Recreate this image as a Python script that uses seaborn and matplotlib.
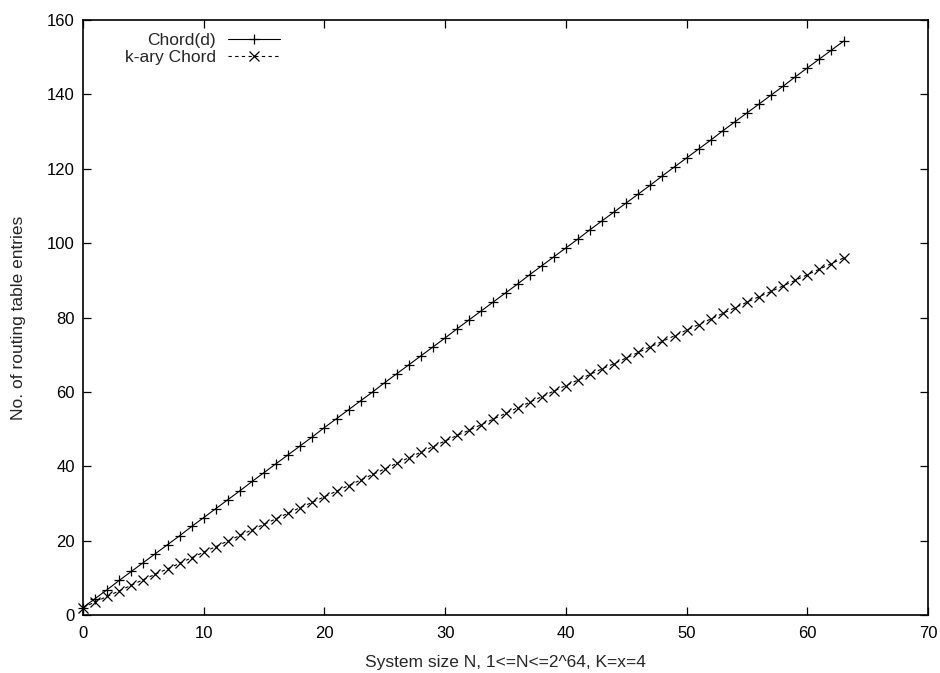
import matplotlib
matplotlib.use("Agg")
import matplotlib.pyplot as plt
import seaborn as sns
import pandas as pd

# values (x = 0..63)
system_size = list(range(64))
chord_d = [2.0, 4.4, 6.8, 9.3, 11.7, 14.1, 16.5, 18.9, 21.3, 23.8,
           26.2, 28.6, 31.0, 33.4, 35.9, 38.3, 40.7, 43.1, 45.5, 47.9,
           50.4, 52.8, 55.2, 57.6, 60.0, 62.5, 64.9, 67.3, 69.7, 72.1,
           74.5, 77.0, 79.4, 81.8, 84.2, 86.6, 89.0, 91.5, 93.9, 96.3,
           98.7, 101.1, 103.6, 106.0, 108.4, 110.8, 113.2, 115.6, 118.1, 120.5,
           122.9, 125.3, 127.7, 130.2, 132.6, 135.0, 137.4, 139.8, 142.2, 144.7,
           147.1, 149.5, 151.9, 154.3]
kary_chord = [2.0, 3.5, 5.0, 6.5, 8.0, 9.5, 11.0, 12.4, 13.9, 15.4,
              16.9, 18.4, 19.9, 21.4, 22.9, 24.4, 25.9, 27.4, 28.9, 30.3,
              31.8, 33.3, 34.8, 36.3, 37.8, 39.3, 40.8, 42.3, 43.8, 45.3,
              46.8, 48.3, 49.7, 51.2, 52.7, 54.2, 55.7, 57.2, 58.7, 60.2,
              61.7, 63.2, 64.7, 66.2, 67.6, 69.1, 70.6, 72.1, 73.6, 75.1,
              76.6, 78.1, 79.6, 81.1, 82.6, 84.1, 85.6, 87.0, 88.5, 90.0,
              91.5, 93.0, 94.5, 96.0]
x_ticks = [0, 10, 20, 30, 40, 50, 60, 70]
y_ticks = [0, 20, 40, 60, 80, 100, 120, 140, 160]

df = pd.DataFrame({"N": system_size, "Chord(d)": chord_d, "k-ary Chord": kary_chord})

sns.set_style("ticks")
plt.rcParams['font.family'] = ['Liberation Sans', 'DejaVu Sans']
plt.rcParams['xtick.direction'] = 'in'
plt.rcParams['ytick.direction'] = 'in'
plt.rcParams['xtick.top'] = True
plt.rcParams['ytick.right'] = True

fig = plt.figure(figsize=(9.4, 6.73), dpi=100)
ax = fig.add_axes([83 / 940, 58 / 673, 845 / 940, 595 / 673])

# Graphs
sns.lineplot(x='N', y='Chord(d)', data=df, ax=ax, color='black', linewidth=0.8,
             marker='+', markersize=7.5, markeredgewidth=0.9, markeredgecolor='black',
             label='Chord(d)', clip_on=False)
sns.lineplot(x='N', y='k-ary Chord', data=df, ax=ax, color='black', linewidth=0.8,
             linestyle=(0, (3, 3)), marker='x', markersize=6.5, markeredgewidth=0.9,
             markeredgecolor='black', label='k-ary Chord', clip_on=False)

# Axes
ax.set_xlim(0, 70)
ax.set_ylim(0, 160)
ax.set_xticks(x_ticks)
ax.set_yticks(y_ticks)
ax.tick_params(axis='both', which='major', length=6, width=0.9, labelsize=12,
               colors='black')
ax.tick_params(axis='x', pad=8)
ax.tick_params(axis='y', pad=6)
for sp in ax.spines.values():
    sp.set_linewidth(1.2)
    sp.set_color('black')
    sp.set_visible(True)

ax.set_xlabel('System size N, 1<=N<=2^64, K=x=4', fontsize=12.5, labelpad=10)
ax.set_ylabel('No. of routing table entries', fontsize=12.5, labelpad=15)

# Legend: text on the left, sample on the right
leg = ax.legend(loc='upper left', bbox_to_anchor=(0.035, 0.998), frameon=False,
                markerfirst=False, handlelength=3.0, fontsize=12.5,
                labelspacing=0.1, handletextpad=0.7, borderaxespad=0.3)
for col in leg._legend_handle_box.get_children():
    col.align = 'right'

plt.savefig('out.png', dpi=100)
